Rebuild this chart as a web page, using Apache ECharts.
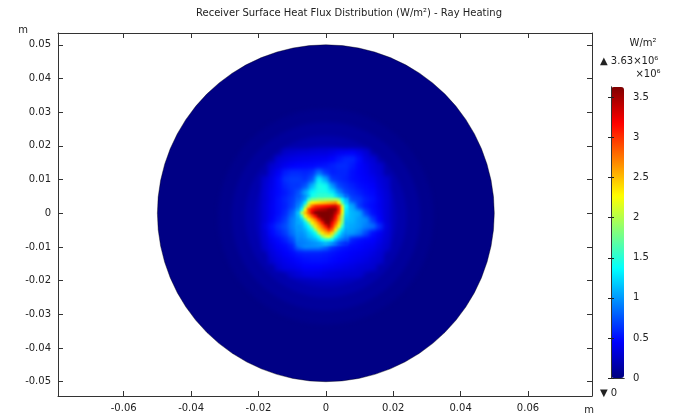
<!DOCTYPE html>
<html><head><meta charset="utf-8">
<script src="https://cdn.jsdelivr.net/npm/echarts@6/dist/echarts.min.js"></script>
<style>
html,body{margin:0;padding:0;background:#fff;}
#wrap{position:relative;width:678px;height:416px;overflow:hidden;}
.layer{position:absolute;left:0;top:0;width:678px;height:416px;}
#soft{filter:blur(2.2px);}
#core{filter:blur(1px);}
</style></head><body>
<div id="wrap"><div id="base" class="layer"></div><div id="soft" class="layer"></div><div id="core" class="layer"></div></div>
<script>
// ---------- data (heat flux in 1e6 W/m^2, coordinates in m) ----------
const titleText = 'Receiver Surface Heat Flux Distribution (W/m\u00B2) - Ray Heating';
const xTickLabels = ['-0.06','-0.04','-0.02','0','0.02','0.04','0.06'];
const yTickLabels = ['-0.05','-0.04','-0.03','-0.02','-0.01','0','0.01','0.02','0.03','0.04','0.05'];
const cbTickLabels = ['0','0.5','1','1.5','2','2.5','3','3.5'];
const fluxMin = 0;
const fluxMax = 3.63;
const diskRadius = 0.05;
const diskFlux = 0.02;
const haloCenter = [0, -0.001];
const haloRadius = [0.032, 0.028, 0.024, 0.021, 0.019];
const haloFlux   = [0.05, 0.10, 0.16, 0.22, 0.28];
const coarseX = [-0.018,-0.016,-0.014,-0.012,-0.010,-0.008,-0.006,-0.004,-0.002,0,0.002,0.004,0.006,0.008,0.010,0.012,0.014,0.016,0.018];
const coarseY = [0.018,0.016,0.014,0.012,0.010,0.008,0.006,0.004,0.002,0,-0.002,-0.004,-0.006,-0.008,-0.010,-0.012,-0.014,-0.016,-0.018];
const coarseFlux = [
 [null,null,null,0.26,0.28,0.30,0.31,0.32,0.33,0.33,0.36,0.40,0.42,0.44,0.38,0.30,null,null,null],
 [null,null,0.30,0.33,0.36,0.38,0.39,0.40,0.41,0.42,0.46,0.52,0.58,0.58,0.48,0.35,0.30,null,null],
 [null,0.28,0.34,0.40,0.44,0.46,0.47,0.48,0.50,0.52,0.56,0.60,0.60,0.54,0.46,0.40,0.33,0.28,null],
 [null,0.33,0.42,0.55,0.60,0.60,0.58,0.62,0.85,0.65,0.56,0.58,0.58,0.50,0.46,0.42,0.35,0.30,null],
 [0.28,0.36,0.48,0.62,0.66,0.66,0.62,0.75,1.30,1.05,0.65,0.60,0.56,0.50,0.47,0.44,0.40,0.33,0.28],
 [0.30,0.38,0.48,0.58,0.64,0.64,0.75,1.10,1.45,1.40,1.00,0.70,0.62,0.56,0.50,0.47,0.44,0.35,0.29],
 [0.31,0.40,0.48,0.54,0.62,0.75,1.05,1.35,1.45,1.45,1.30,0.95,0.70,0.62,0.56,0.50,0.47,0.38,0.31],
 [0.31,0.40,0.50,0.58,0.66,0.80,1.10,1.60,1.80,1.80,1.70,1.30,1.00,0.70,0.65,0.55,0.50,0.40,0.32],
 [0.32,0.41,0.50,0.56,0.68,0.90,1.30,2.80,3.20,3.20,3.10,2.40,1.15,1.05,0.65,0.53,0.48,0.40,0.32],
 [0.32,0.41,0.50,0.60,0.80,1.10,1.80,3.40,3.60,3.60,3.40,2.60,1.20,1.10,1.05,0.68,0.50,0.42,0.32],
 [0.32,0.43,0.54,0.66,0.90,1.05,1.30,2.60,3.40,3.60,3.50,2.50,1.15,1.10,1.00,0.95,0.65,0.45,0.32],
 [0.35,0.50,0.62,0.72,0.90,1.05,1.20,1.60,2.60,3.50,3.20,2.30,1.10,1.05,1.00,0.90,0.85,0.60,0.34],
 [0.32,0.47,0.56,0.66,0.85,1.00,1.05,1.25,1.80,2.60,2.50,1.50,1.05,1.00,0.90,0.70,0.50,0.42,0.32],
 [0.30,0.41,0.48,0.56,0.70,0.95,1.00,1.05,1.20,1.60,1.40,1.00,0.80,0.56,0.50,0.47,0.45,0.38,0.30],
 [0.28,0.37,0.44,0.48,0.56,0.85,0.95,0.95,0.95,0.85,0.65,0.56,0.51,0.48,0.46,0.43,0.40,0.34,0.28],
 [null,0.33,0.39,0.44,0.48,0.54,0.56,0.56,0.56,0.54,0.51,0.48,0.46,0.43,0.41,0.39,0.35,0.30,null],
 [null,0.29,0.35,0.39,0.43,0.47,0.50,0.51,0.51,0.50,0.47,0.45,0.43,0.40,0.38,0.35,0.31,0.28,null],
 [null,null,0.30,0.35,0.38,0.41,0.45,0.45,0.45,0.43,0.41,0.39,0.37,0.35,0.32,0.30,0.28,null,null],
 [null,null,null,null,0.28,0.32,0.36,0.37,0.36,0.34,0.32,0.31,0.30,0.29,0.28,null,null,null,null]
];
const fineX = [-0.008,-0.007,-0.006,-0.005,-0.004,-0.003,-0.002,-0.001,0,0.001,0.002,0.003,0.004,0.005,0.006];
const fineY = [0.005,0.004,0.003,0.002,0.001,0,-0.001,-0.002,-0.003,-0.004,-0.005,-0.006,-0.007,-0.008,-0.009];
const fineFlux = [
 [0.75,0.85,0.98,1.15,1.40,1.45,1.50,1.50,1.50,1.50,1.45,1.25,1.10,1.00,0.80],
 [0.80,0.90,1.05,1.50,1.75,1.80,1.85,1.85,1.90,1.90,1.90,1.95,1.80,1.35,1.10],
 [0.85,1.00,1.30,2.00,2.30,2.35,2.40,2.45,2.50,2.55,2.60,2.65,2.30,1.60,1.20],
 [0.90,1.15,1.80,2.40,2.80,3.00,3.05,3.10,3.15,3.20,3.30,3.30,3.00,2.10,1.35],
 [1.00,1.40,2.30,2.90,3.15,3.30,3.40,3.45,3.50,3.60,3.60,3.55,3.10,2.30,1.30],
 [1.15,2.00,2.50,2.85,3.30,3.60,3.63,3.63,3.63,3.63,3.60,3.40,3.00,2.20,1.25],
 [1.10,1.50,2.30,2.55,2.85,3.15,3.55,3.63,3.63,3.63,3.55,3.20,2.70,2.00,1.20],
 [1.05,1.20,1.70,2.30,2.50,2.75,3.10,3.50,3.63,3.63,3.45,3.05,2.60,1.90,1.15],
 [1.05,1.10,1.30,1.70,2.30,2.50,2.75,3.10,3.55,3.60,3.20,2.85,2.40,1.80,1.10],
 [1.00,1.05,1.20,1.35,1.80,2.35,2.55,2.80,3.10,3.45,3.05,2.60,2.20,1.50,1.10],
 [1.00,1.02,1.10,1.25,1.40,1.90,2.40,2.60,2.80,3.05,2.80,2.35,1.70,1.25,1.05],
 [0.97,0.98,1.05,1.15,1.25,1.40,1.95,2.35,2.50,2.60,2.40,1.80,1.35,1.10,1.00],
 [0.95,0.95,1.00,1.10,1.15,1.25,1.40,1.85,2.10,2.20,1.90,1.40,1.15,1.00,0.90],
 [0.92,0.92,0.95,1.00,1.05,1.10,1.20,1.35,1.50,1.50,1.35,1.10,0.95,0.85,0.78],
 [0.88,0.90,0.92,0.94,0.96,0.98,1.00,1.05,1.10,1.05,0.95,0.85,0.72,0.65,0.60]
];

// ---------- layout / style ----------
const FONT = 'DejaVu Sans';
const jet = ['#00007F','#0000FF','#007FFF','#00FFFF','#7FFF7F','#FFFF00','#FF7F00','#FF0000','#7F0000'];
const X_MIN = -0.0795, X_MAX = 0.079, Y_MIN = -0.05425, Y_MAX = 0.0535;
const PLOT = {left:58, top:33, width:534, height:363};
const CB = {left:611, top:87, width:13, height:291};
const lineC = '#333', textC = '#222';
const xTicks = xTickLabels.map(Number), yTicks = yTickLabels.map(Number), cbTicks = cbTickLabels.map(Number);
function fmt(labels, vals){ return v => { for (let i=0;i<vals.length;i++) if (Math.abs(vals[i]-v)<1e-9) return labels[i]; return ''; }; }
const lbl = {fontFamily:FONT, fontSize:10, color:textC};

function frameAxis(kind, pos, ticks, labels, showLabel){
  const a = {type:'value', position:pos, splitLine:{show:false},
    axisLine:{show:true, onZero:false, lineStyle:{color:lineC, width:1}},
    axisTick:{show:true, inside:true, length:5, customValues:ticks, lineStyle:{color:lineC}},
    axisLabel:Object.assign({show:showLabel, customValues:ticks, formatter:fmt(labels, ticks), margin:7}, lbl)};
  if (kind==='x'){ a.min=X_MIN; a.max=X_MAX; } else { a.min=Y_MIN; a.max=Y_MAX; }
  return a;
}
function hiddenAxes(){
  const h = {type:'value', show:false, splitLine:{show:false}, axisLine:{show:false}, axisTick:{show:false}, axisLabel:{show:false}};
  return {x:Object.assign({min:X_MIN, max:X_MAX}, h), y:Object.assign({min:Y_MIN, max:Y_MAX}, h)};
}
function cellSeries(xs, ys, grid){
  const data = [];
  for (let j=0;j<ys.length;j++) for (let i=0;i<xs.length;i++) if (grid[j][i]!=null) data.push([xs[i], ys[j], grid[j][i]]);
  const step = Math.abs(xs[1]-xs[0]);
  return {type:'custom', coordinateSystem:'cartesian2d', silent:true, clip:false, data,
    renderItem:(p, api)=>{
      const c = api.coord([api.value(0), api.value(1)]);
      const s = api.size([step, step]);
      return {type:'rect', shape:{x:c[0]-s[0]/2-0.35, y:c[1]-s[1]/2-0.35, width:s[0]+0.7, height:s[1]+0.7}, style:{fill:api.visual('color')}};
    }};
}

// ---------- base chart: frame, disk, colour bar, texts ----------
const base = echarts.init(document.getElementById('base'), null, {renderer:'canvas'});
const cbAxis = (pos, showLabel) => ({type:'value', gridIndex:1, min:fluxMin, max:fluxMax, position:pos, z:10, splitLine:{show:false},
  axisLine:{show:true, lineStyle:{color:lineC, width:1}},
  axisTick:{show:true, inside:true, length:3, customValues:cbTicks, lineStyle:{color:'#222'}},
  axisLabel:Object.assign({show:showLabel, customValues:cbTicks, formatter:fmt(cbTickLabels, cbTicks), margin:9}, lbl)});
const cbX = pos => ({type:'value', gridIndex:1, min:0, max:1, position:pos, z:10, splitLine:{show:false},
  axisLine:{show:true, lineStyle:{color:lineC, width:1}}, axisTick:{show:false}, axisLabel:{show:false}});
const txt = (x, y, text, align) => ({type:'text', x:x, y:y, silent:true,
  style:{text:text, textAlign:align, textVerticalAlign:'middle', font:'10px "DejaVu Sans"', fill:textC}});
base.setOption({
  animation:false,
  backgroundColor:'#fff',
  grid:[PLOT, CB],
  xAxis:[frameAxis('x','bottom',xTicks,xTickLabels,true), frameAxis('x','top',xTicks,xTickLabels,false), cbX('bottom'), cbX('top')],
  yAxis:[frameAxis('y','left',yTicks,yTickLabels,true), frameAxis('y','right',yTicks,yTickLabels,false), cbAxis('right', true), cbAxis('left', false)],
  visualMap:[{type:'continuous', min:fluxMin, max:fluxMax, dimension:3, seriesIndex:0, orient:'vertical',
    left:CB.left, top:CB.top, itemWidth:CB.width, itemHeight:CB.height, padding:0, calculable:false, hoverLink:false,
    text:null, inRange:{color:jet}, z:4}],
  series:[{type:'custom', coordinateSystem:'cartesian2d', xAxisIndex:0, yAxisIndex:0, silent:true, clip:false,
    data:[[0, 0, diskRadius, diskFlux]],
    renderItem:(p, api)=>{
      const c = api.coord([api.value(0), api.value(1)]);
      const r = api.size([api.value(2), 0])[0];
      return {type:'circle', shape:{cx:c[0], cy:c[1], r:r}, style:{fill:api.visual('color'), stroke:'rgba(0,0,0,0.55)', lineWidth:0.7}};
    }}],
  graphic:[
    txt(349, 13, titleText, 'center'),
    txt(23, 30, 'm', 'center'),
    txt(589, 410, 'm', 'center'),
    txt(643, 43, 'W/m\u00B2', 'center'),
    txt(600, 61, '\u25B2 ' + fluxMax.toFixed(2) + '\u00D710\u2076', 'left'),
    txt(648, 74, '\u00D710\u2076', 'center'),
    txt(600, 393, '\u25BC ' + fluxMin, 'left')
  ]
});

// ---------- soft overlay: halo + coarse field ----------
const soft = echarts.init(document.getElementById('soft'), null, {renderer:'canvas'});
const hs = hiddenAxes();
soft.setOption({
  animation:false,
  grid:[PLOT], xAxis:[hs.x], yAxis:[hs.y],
  visualMap:[
    {show:false, type:'continuous', min:fluxMin, max:fluxMax, dimension:1, seriesIndex:0, inRange:{color:jet}},
    {show:false, type:'continuous', min:fluxMin, max:fluxMax, dimension:2, seriesIndex:1, inRange:{color:jet}}
  ],
  series:[
    {type:'custom', coordinateSystem:'cartesian2d', silent:true, clip:false,
     data:haloRadius.map((r,i)=>[r, haloFlux[i]]),
     renderItem:(p, api)=>{
       const c = api.coord(haloCenter);
       const r = api.size([api.value(0), 0])[0];
       return {type:'circle', shape:{cx:c[0], cy:c[1], r:r}, style:{fill:api.visual('color')}};
     }},
    cellSeries(coarseX, coarseY, coarseFlux)
  ]
});

// ---------- core overlay: fine field ----------
const core = echarts.init(document.getElementById('core'), null, {renderer:'canvas'});
const hc = hiddenAxes();
core.setOption({
  animation:false,
  grid:[PLOT], xAxis:[hc.x], yAxis:[hc.y],
  visualMap:[{show:false, type:'continuous', min:fluxMin, max:fluxMax, dimension:2, seriesIndex:0, inRange:{color:jet}}],
  series:[cellSeries(fineX, fineY, fineFlux)]
});
</script>
</body></html>
